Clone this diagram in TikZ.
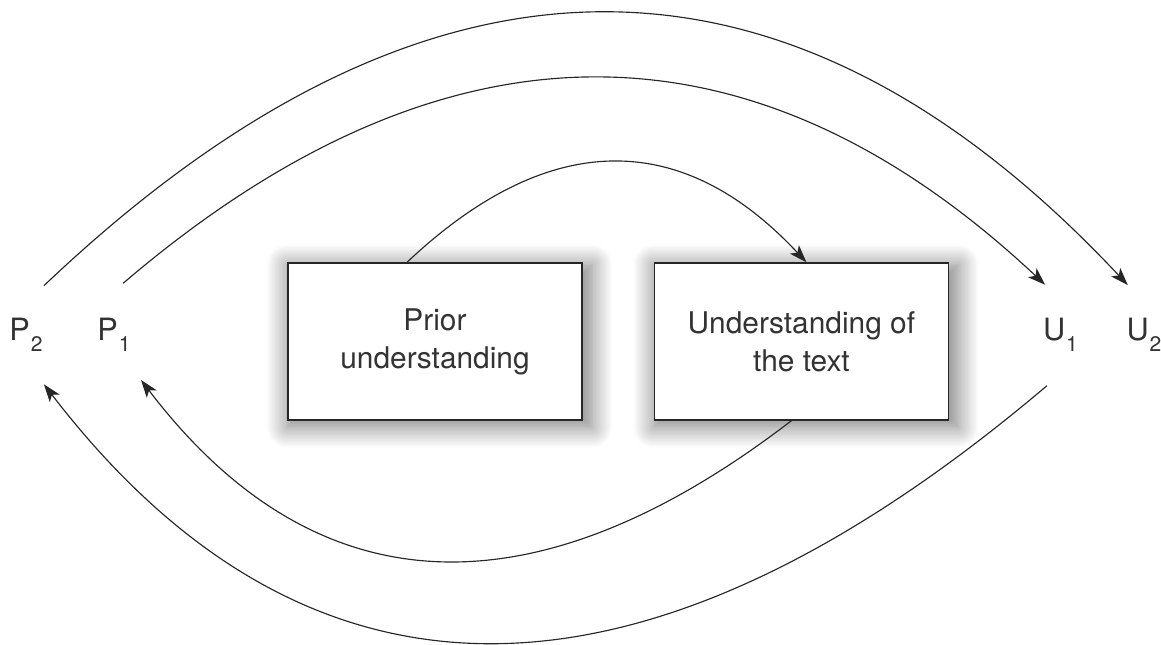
\documentclass[tikz,border=0pt]{standalone}
\usepackage{fontspec}
\setmainfont{TeX Gyre Heros}
\usepackage{tikz}
\usetikzlibrary{arrows.meta, positioning, shadows.blur}
\newcommand{\sublbl}[2]{#1\kern0.5pt\raisebox{-6.5pt}{\fontsize{12}{12}\selectfont #2}}

\begin{document}
\begin{tikzpicture}[
    box/.style={draw=black!85, line width=0.8pt, fill=white, minimum width=5.88cm, minimum height=3.14cm,
      align=center, text=black!80, font=\fontsize{17}{21.6}\selectfont,
      blur shadow={shadow xshift=2.5pt, shadow yshift=-2.5pt, shadow scale=1.04,
        shadow blur radius=11pt, shadow blur steps=15, shadow opacity=50}},
    lbl/.style={circle, minimum size=2.1cm, inner sep=0pt, outer sep=0pt, text=black!80,
      font=\fontsize{17.5}{20}\selectfont},
    arc/.style={draw=black!85, line width=0.65pt, -{Stealth[length=10pt,width=7pt,inset=2.5pt]}}
  ]
  \useasboundingbox (0,0) rectangle (23.22,12.88);

  \node[box] (prior) at (8.7,6.05) {Prior\\understanding};
  \node[box, right=1.42cm of prior] (understanding) {Understanding of\\the text};

  \node[lbl] (P2) at (0.52,6.18) {\sublbl{P}{2}};
  \node[lbl] (P1) at (2.28,6.18) {\sublbl{P}{1}};
  \node[lbl] (U1) at (21.21,6.18) {\sublbl{U}{1}};
  \node[lbl] (U2) at (22.88,6.18) {\sublbl{U}{2}};

  %ARCOS DE ARRIBA
  \draw[arc] ([xshift=-0.56cm]prior.north) .. controls +(2.83,2.67) and +(-2.49,2.67) .. ([xshift=0.1cm]understanding.north);
  \draw[arc] (P1.80) .. controls +(6.41,5.48) and +(-5.88,5.51) .. (U1.107);
  \draw[arc] (P2.70) .. controls +(7.65,7.27) and +(-6.8,7.26) .. (U2.108);

  %ARCOS DE ABAJO
  \draw[arc] ([xshift=-0.2cm]understanding.south) .. controls +(-5.21,-4.0) and +(3.45,-4.53) .. (P1.-59);
  \draw[arc] (U1.-105) .. controls +(-8.08,-6.85) and +(5.28,-6.88) .. (P2.-70);
\end{tikzpicture}
\end{document}
